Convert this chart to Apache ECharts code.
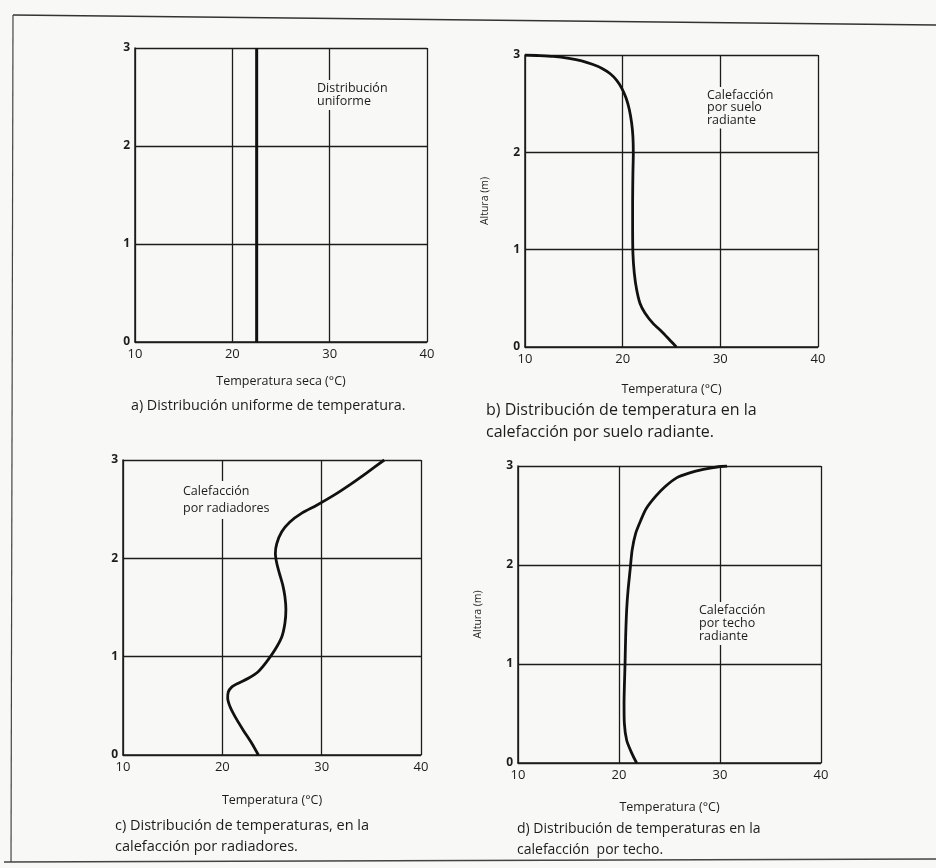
<!DOCTYPE html>
<html>
<head>
<meta charset="utf-8">
<script src="https://cdn.jsdelivr.net/npm/echarts@6/dist/echarts.min.js"></script>
<style>
html,body{margin:0;padding:0;background:#f8f8f7;}
#c{width:936px;height:868px;}
</style>
</head>
<body>
<div id="c"></div>
<script>
// ---- data ----
var xTicks = [10, 20, 30, 40];
var yTicks = [0, 1, 2, 3];

var tempA = [22.5, 22.5];
var heightA = [0, 3];

var tempB = [25.5, 24.84, 23.99, 23.13, 22.28, 21.77, 21.43, 21.19, 21.05, 21.02, 21.02, 21.05, 21.09, 21.05, 20.92, 20.68, 20.34, 19.9, 19.39, 18.7, 17.85, 16.9, 15.8, 14.5, 12.9, 11.2, 10.0];
var heightB = [0, 0.07, 0.16, 0.24, 0.35, 0.45, 0.59, 0.76, 0.96, 1.24, 1.51, 1.79, 1.99, 2.16, 2.30, 2.44, 2.56, 2.66, 2.74, 2.81, 2.865, 2.905, 2.94, 2.965, 2.985, 2.995, 3.0];

var tempC = [23.63, 22.96, 22.12, 21.28, 20.78, 20.54, 20.6, 20.94, 21.61, 22.62, 23.63, 24.47, 25.3, 25.98, 26.3, 26.4, 26.3, 26.08, 25.74, 25.48, 25.34, 25.48, 25.98, 26.8, 28.0, 29.5, 31.2, 32.86, 34.54, 36.3];
var heightC = [0, 0.12, 0.25, 0.39, 0.49, 0.58, 0.64, 0.69, 0.73, 0.78, 0.85, 0.95, 1.07, 1.2, 1.34, 1.48, 1.61, 1.73, 1.85, 1.95, 2.05, 2.15, 2.27, 2.37, 2.46, 2.54, 2.64, 2.75, 2.87, 3.0];

var tempD = [21.75, 21.26, 20.76, 20.53, 20.5, 20.6, 20.66, 20.76, 20.9, 21.1, 21.3, 21.65, 22.15, 22.7, 23.6, 24.55, 25.7, 27.0, 28.35, 29.7, 30.7];
var heightD = [0, 0.1, 0.23, 0.40, 0.60, 1.01, 1.28, 1.55, 1.75, 1.95, 2.15, 2.32, 2.45, 2.57, 2.69, 2.79, 2.88, 2.93, 2.965, 2.99, 3.0];

var xNames = ['Temperatura seca (°C)', 'Temperatura (°C)', 'Temperatura (°C)', 'Temperatura (°C)'];
var yNames = ['', 'Altura (m)', '', 'Altura (m)'];
var notes = [
  ['Distribución', 'uniforme'],
  ['Calefacción', 'por suelo', 'radiante'],
  ['Calefacción', 'por radiadores'],
  ['Calefacción', 'por techo', 'radiante']
];
var captions = [
  ['a) Distribución uniforme de temperatura.'],
  ['b) Distribución de temperatura en la', 'calefacción por suelo radiante.'],
  ['c) Distribución de temperaturas, en la', 'calefacción por radiadores.'],
  ['d) Distribución de temperaturas en la', 'calefacción  por techo.']
];

// ---- layout ----
var FONT = '"Open Sans", "Noto Sans", sans-serif';
var INK = '#1c1c1c';
var BG = '#f8f8f7';
var grids = [
  {left: 135, top: 48, width: 292, height: 294},
  {left: 525, top: 55, width: 293, height: 292},
  {left: 123, top: 460, width: 298, height: 295},
  {left: 518, top: 466, width: 303, height: 297}
];
var notePos = [[317, 90, 13], [707, 97, 12.5], [183, 491, 17], [699, 612, 13]];
var capPos = [[131, 406, 22, 14.3], [486, 410, 22, 16], [115, 826, 21, 14.5], [517, 830, 21, 14]];
var nameGaps = [33, 36, 39, 38];

function pairs(xs, ys) { return xs.map(function (v, i) { return [v, ys[i]]; }); }
var seriesData = [pairs(tempA, heightA), pairs(tempB, heightB), pairs(tempC, heightC), pairs(tempD, heightD)];

var xAxes = [], yAxes = [], series = [], graphics = [];
grids.forEach(function (g, i) {
  xAxes.push({
    type: 'value', gridIndex: i, min: xTicks[0], max: xTicks[xTicks.length - 1], interval: 10,
    name: xNames[i], nameLocation: 'middle', nameGap: nameGaps[i],
    nameTextStyle: {fontFamily: FONT, fontSize: 12.5, color: INK},
    axisLine: {show: true, lineStyle: {color: INK, width: 1.5}},
    axisTick: {show: false},
    axisLabel: {fontFamily: FONT, fontSize: 13, color: INK, margin: 6},
    splitLine: {show: true, lineStyle: {color: INK, width: 1.3}}
  });
  yAxes.push({
    type: 'value', gridIndex: i, min: yTicks[0], max: yTicks[yTicks.length - 1], interval: 1,
    name: yNames[i], nameLocation: 'middle', nameGap: 34, nameRotate: 90,
    nameTextStyle: {fontFamily: FONT, fontSize: 10.5, color: INK},
    axisLine: {show: true, lineStyle: {color: INK, width: 1.5}},
    axisTick: {show: false},
    axisLabel: {fontFamily: FONT, fontSize: 12, fontWeight: 'bold', color: INK, margin: 5},
    splitLine: {show: true, lineStyle: {color: INK, width: 1.3}}
  });
  series.push({
    type: 'line', xAxisIndex: i, yAxisIndex: i, data: seriesData[i],
    smooth: i === 0 ? false : 0.25, showSymbol: false, symbol: 'none',
    lineStyle: {color: '#111', width: i === 0 ? 3 : 2.8}, z: 5, animation: false
  });
  var np = notePos[i];
  graphics.push({
    type: 'text', left: np[0] - 3, top: np[1] - 10, z: 10,
    style: {text: notes[i].join('\n'), font: '12.5px ' + FONT, fill: INK, lineHeight: np[2],
            backgroundColor: BG, padding: [2, 3, 2, 3]}
  });
  var cp = capPos[i];
  graphics.push({
    type: 'text', left: cp[0], top: cp[1] - 11,
    style: {text: captions[i].join('\n'), font: cp[3] + 'px ' + FONT, fill: INK, lineHeight: cp[2]}
  });
});

// scan frame lines
graphics.push({type: 'line', shape: {x1: 13, y1: 15, x2: 936, y2: 25}, style: {stroke: '#333', lineWidth: 1.4}});
graphics.push({type: 'line', shape: {x1: 13, y1: 15, x2: 11, y2: 862}, style: {stroke: '#444', lineWidth: 1.2}});
graphics.push({type: 'line', shape: {x1: 4, y1: 862, x2: 936, y2: 859}, style: {stroke: '#444', lineWidth: 1.4}});

var chart = echarts.init(document.getElementById('c'), null, {renderer: 'canvas'});
chart.setOption({
  backgroundColor: BG,
  animation: false,
  grid: grids,
  xAxis: xAxes,
  yAxis: yAxes,
  series: series,
  graphic: graphics
});
</script>
</body>
</html>
